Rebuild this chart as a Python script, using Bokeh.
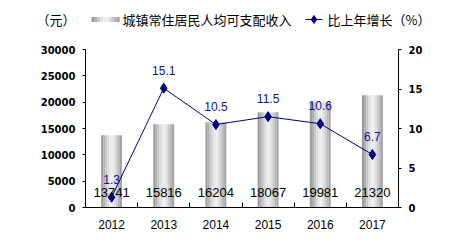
from bokeh.plotting import figure
from bokeh.models import Range1d, LinearAxis, FixedTicker
from bokeh.core.properties import value
from bokeh.embed import file_html
from bokeh.resources import INLINE

years = ["2012", "2013", "2014", "2015", "2016", "2017"]
income = [13741, 15816, 16204, 18067, 19981, 21320]
growth = [1.3, 15.1, 10.5, 11.5, 10.6, 6.7]
left_ticks = [0, 5000, 10000, 15000, 20000, 25000, 30000]
right_ticks = [0, 5, 10, 15, 20]
bar_name = "城镇常住居民人均可支配收入"
line_name = "比上年增长（%）"
unit_label = "（元）"

xs = [i + 0.5 for i in range(len(years))]

LINE_COLOR = "#000080"
strip_colors = ["#9a9a9a", "#b0b0b0", "#c8c8c8", "#dcdcdc", "#ebebeb",
                "#eeeeee", "#e0e0e0", "#cdcdcd", "#b9b9b9", "#a4a4a4"]

# ---------- header (legend), drawn in a pixel-unit figure ----------
HEAD_H = 35
W = 462
head = figure(frame_width=W, frame_height=HEAD_H, output_backend="svg", toolbar_location=None,
              x_range=Range1d(0, W), y_range=Range1d(0, HEAD_H),
              min_border=0, x_axis_location=None, y_axis_location=None)
head.outline_line_color = None
head.grid.visible = False
head.border_fill_color = "white"
head.background_fill_color = "white"
ly = HEAD_H - 19
txt = dict(text_baseline="middle", text_align="left",
           text_font=value("Noto Sans CJK SC"), text_font_size="13px", text_color="black")
head.text([36], [ly], text=[unit_label], **txt)
# bar swatch (small gradient)
sw_n = len(strip_colors)
sw_w = 28 / sw_n
head.quad(left=[91 + k * sw_w for k in range(sw_n)],
          right=[91 + (k + 1) * sw_w + 0.2 for k in range(sw_n)],
          bottom=[ly - 2.5] * sw_n, top=[ly + 2.5] * sw_n,
          fill_color=strip_colors, line_color=None)
head.text([122], [ly], text=[bar_name], **txt)
# line swatch
head.line([305, 322], [ly, ly], line_color=LINE_COLOR, line_width=1)
head.scatter([313.5], [ly], marker="diamond", size=8, fill_color=LINE_COLOR,
             line_color=LINE_COLOR)
head.text([327], [ly], text=[line_name], **txt)

# ---------- main chart ----------
p = figure(width=W, height=249 - HEAD_H, output_backend="svg", toolbar_location=None,
           x_range=Range1d(0, len(years)), y_range=Range1d(0, 30000),
           min_border_left=85, min_border_right=64, min_border_top=49 - HEAD_H,
           min_border_bottom=42, x_axis_location=None, y_axis_location=None)
p.outline_line_color = None
p.grid.visible = False
p.background_fill_color = "white"
p.border_fill_color = "white"
p.extra_y_ranges = {"pct": Range1d(0, 20)}

# bars drawn as gradient strips (cylinder look)
bar_w = 0.4
n = len(strip_colors)
sw = bar_w / n
for k, c in enumerate(strip_colors):
    off = -bar_w / 2 + sw * (k + 0.5)
    p.vbar(x=[x + off for x in xs], top=income, width=sw * 1.02, bottom=0,
           fill_color=c, line_color=None)

# growth line
p.line(xs, growth, line_color=LINE_COLOR, line_width=1, y_range_name="pct")
p.scatter(xs, growth, marker="diamond", size=10, fill_color=LINE_COLOR,
          line_color=LINE_COLOR, y_range_name="pct")

# value labels
p.text(xs, [0] * len(xs), text=[str(v) for v in income], text_align="center",
       text_baseline="middle", y_offset=-15, text_font=value("Liberation Sans"),
       text_font_size="13px", text_color="black")
p.text(xs, growth, text=[str(v) for v in growth], text_align="center",
       text_baseline="middle", y_offset=-18, text_font=value("Liberation Sans"),
       text_font_size="12px", text_color="#10109c", y_range_name="pct")

# axes
yl = LinearAxis(ticker=FixedTicker(ticks=left_ticks))
yr = LinearAxis(y_range_name="pct", ticker=FixedTicker(ticks=right_ticks))
xa = LinearAxis(ticker=FixedTicker(ticks=xs, minor_ticks=list(range(len(years) + 1))),
                major_label_overrides={x: y for x, y in zip(xs, years)})
for ax in (yl, yr):
    ax.axis_line_color = "black"
    ax.major_tick_line_color = "black"
    ax.major_tick_in = 0
    ax.major_tick_out = 3
    ax.minor_tick_line_color = None
    ax.major_label_text_font = "DejaVu Sans"
    ax.major_label_text_font_style = "bold"
    ax.major_label_text_font_size = "10px"
    ax.major_label_text_color = "black"
    ax.major_label_standoff = 7
xa.axis_line_color = "black"
xa.major_tick_in = 0
xa.major_tick_out = 0
xa.minor_tick_in = 5
xa.minor_tick_out = 0
xa.minor_tick_line_color = "black"
xa.major_label_text_font = "Liberation Sans"
xa.major_label_text_font_size = "12px"
xa.major_label_text_color = "black"
xa.major_label_standoff = 12
p.add_layout(yl, "left")
p.add_layout(yr, "right")
p.add_layout(xa, "below")

open("out.html", "w").write(file_html([head, p], INLINE))
